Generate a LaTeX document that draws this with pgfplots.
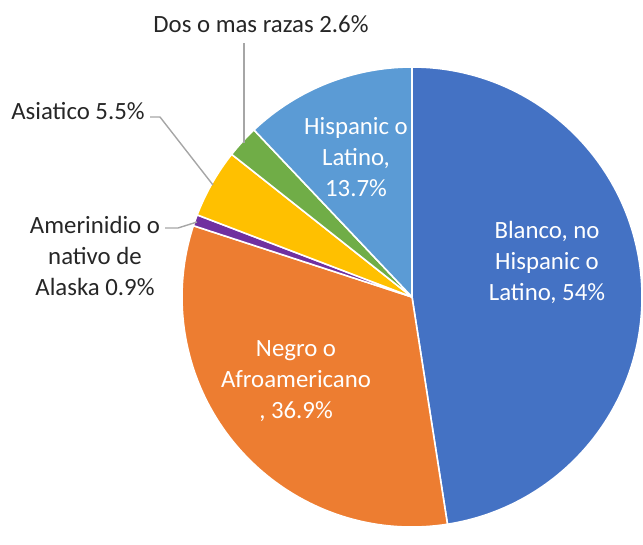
\documentclass[border=0pt]{standalone}
\usepackage{pgfplots}
\pgfplotsset{compat=1.18}
\usepackage{fontspec}
\setmainfont{Carlito}
\definecolor{cBlue}{HTML}{4472C4}
\definecolor{cOrange}{HTML}{ED7D31}
\definecolor{cPurple}{HTML}{7030A0}
\definecolor{cYellow}{HTML}{FFC000}
\definecolor{cGreen}{HTML}{70AD47}
\definecolor{cLight}{HTML}{5B9BD5}
\definecolor{cLeader}{HTML}{A6A6A6}
\definecolor{cText}{HTML}{262626}
\begin{document}
\begin{tikzpicture}
% values (percent as labelled)
\def\vA{54}\def\vB{36.9}\def\vC{0.9}\def\vD{5.5}\def\vE{2.6}\def\vF{13.7}
\pgfmathsetmacro\tot{\vA+\vB+\vC+\vD+\vE+\vF}
\pgfmathsetmacro\aO{90}
\pgfmathsetmacro\aA{\aO-\vA/\tot*360}
\pgfmathsetmacro\aB{\aA-\vB/\tot*360}
\pgfmathsetmacro\aC{\aB-\vC/\tot*360}
\pgfmathsetmacro\aD{\aC-\vD/\tot*360}
\pgfmathsetmacro\aE{\aD-\vE/\tot*360}
\pgfmathsetmacro\aF{\aE-\vF/\tot*360}
\newcommand\slice[3]{\filldraw[fill=#3, draw=white, line width=1.6pt, line join=round] (axis cs:412,297) -- ++(#1:230bp) arc[start angle=#1, end angle=#2, radius=230bp] -- cycle;}
\begin{axis}[width=643bp,height=530bp,scale only axis,hide axis,
  xmin=0,xmax=643,ymin=0,ymax=530,y dir=reverse,clip=false]
\addplot[draw=none] coordinates {(0,0) (643,530)};
\slice{\aO}{\aA}{cBlue}
\slice{\aA}{\aB}{cOrange}
\slice{\aB}{\aC}{cPurple}
\slice{\aC}{\aD}{cYellow}
\slice{\aD}{\aE}{cGreen}
\slice{\aE}{\aF}{cLight}
% leader lines
\draw[cLeader, line width=1.4pt] (axis cs:244,43) -- (axis cs:244,143);
\draw[cLeader, line width=1.4pt] (axis cs:150,117) -- (axis cs:160,117) -- (axis cs:213,185);
\draw[cLeader, line width=1.4pt] (axis cs:165,228) -- (axis cs:178,228) -- (axis cs:197,222);
% labels
\begin{scope}[every node/.style={font=\fontsize{24.8bp}{31bp}\selectfont, align=center, inner sep=0pt}]
\node[white] at (axis cs:547,262) {Blanco, no\\Hispanic o\\Latino, 54\%};
\node[white] at (axis cs:296,381) {Negro o\\Afroamericano\\, 36.9\%};
\node[white] at (axis cs:356,157) {Hispanic o\\Latino,\\13.7\%};
\node[cText] at (axis cs:261,24) {Dos o mas razas 2.6\%};
\node[cText] at (axis cs:78,111) {Asiatico 5.5\%};
\node[cText] at (axis cs:95,256) {Amerinidio o\\nativo de\\Alaska 0.9\%};
\end{scope}
\end{axis}
\end{tikzpicture}
\end{document}
